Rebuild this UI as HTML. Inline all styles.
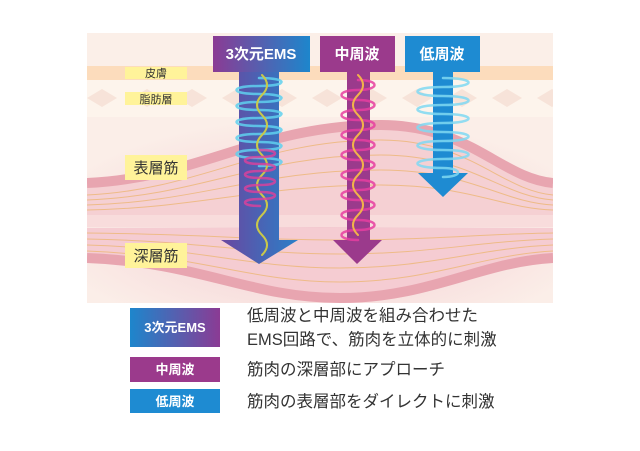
<!DOCTYPE html>
<html><head><meta charset="utf-8"><style>
html,body{margin:0;padding:0;background:#fff;}
body{width:640px;height:451px;overflow:hidden;position:relative;font-family:"Liberation Sans","Noto Sans CJK JP",sans-serif;}
</style></head><body>
<svg width="640" height="451" viewBox="0 0 640 451" xmlns="http://www.w3.org/2000/svg" style="position:absolute;left:0;top:0">
<defs>
<linearGradient id="ems" x1="0" y1="0" x2="1" y2="0"><stop offset="0" stop-color="#8b3b94"/><stop offset="1" stop-color="#1d86cc"/></linearGradient>
<linearGradient id="emsl" x1="0" y1="0" x2="1" y2="0"><stop offset="0" stop-color="#1d86cc"/><stop offset="1" stop-color="#8b3b94"/></linearGradient>
<linearGradient id="emsv" x1="0" y1="0" x2="1" y2="0"><stop offset="0" stop-color="#6a47a0"/><stop offset="1" stop-color="#2a7fc8"/></linearGradient>
<radialGradient id="glow" cx="0.5" cy="0.6" r="0.6"><stop offset="0" stop-color="#f3c9d0"/><stop offset="1" stop-color="#fbeee8"/></radialGradient>
<clipPath id="cl"><rect x="87" y="33" width="466" height="270"/></clipPath>
</defs>
<g clip-path="url(#cl)">
<rect x="87" y="33" width="466" height="270" fill="#fbefe8"/>
<rect x="87" y="117" width="466" height="186" fill="url(#glow)"/>
<rect x="87" y="66" width="466" height="14" fill="#fcdcbc"/>
<rect x="87" y="80" width="466" height="37" fill="#fdf4ec"/>
<g fill="#f7e3d9">
<path d="M87 98 l15 -9 15 9 -15 9z M132 98 l15 -9 15 9 -15 9z M177 98 l15 -9 15 9 -15 9z M222 98 l15 -9 15 9 -15 9z M267 98 l15 -9 15 9 -15 9z M312 98 l15 -9 15 9 -15 9z M357 98 l15 -9 15 9 -15 9z M402 98 l15 -9 15 9 -15 9z M447 98 l15 -9 15 9 -15 9z M492 98 l15 -9 15 9 -15 9z M537 98 l15 -9 15 9 -15 9z"/>
</g>
<path d="M87 185 C200 180 260 127 380 127 C470 127 500 180 553 185 L553 215 L87 215Z" fill="#f5d0d3"/>
<path d="M87 183 C200 178 260 125 380 125 C470 125 500 178 553 183" fill="none" stroke="#e8a5b0" stroke-width="10"/>
<g fill="none" stroke="#eebb88" stroke-width="1">
<path d="M87 195 C200 190 260 140 380 140 C470 140 500 190 553 195"/>
<path d="M87 200 C200 196 260 155 380 155 C470 155 500 196 553 200"/>
<path d="M87 205 C200 202 260 170 380 170 C470 170 500 202 553 205"/>
<path d="M87 210 C200 208 260 185 380 185 C470 185 500 208 553 210"/>
</g>
<rect x="87" y="215" width="466" height="12" fill="#f8dcdc"/>
<path d="M87 228 L553 228 L553 258 C480 262 430 298 340 298 C250 298 200 262 87 258Z" fill="#f5ccd2"/>
<path d="M87 258 C200 262 250 298 340 298 C430 298 480 262 553 258" fill="none" stroke="#e8a5b0" stroke-width="10"/>
<g fill="none" stroke="#eebb88" stroke-width="1">
<path d="M87 233 C200 234 250 240 340 240 C430 240 480 234 553 233"/>
<path d="M87 239 C200 241 250 254 340 254 C430 254 480 241 553 239"/>
<path d="M87 245 C200 248 250 268 340 268 C430 268 480 248 553 245"/>
<path d="M87 251 C200 255 250 282 340 282 C430 282 480 255 553 251"/>
</g>
</g>
<g font-size="11" fill="#333" text-anchor="middle">
<rect x="125" y="67" width="62" height="12" fill="#fff39a"/><text x="156" y="77">皮膚</text>
<rect x="125" y="92" width="62" height="13" fill="#fff39a"/><text x="156" y="103">脂肪層</text>
</g>
<g font-size="15" fill="#333" text-anchor="middle">
<rect x="125" y="155" width="62" height="25" fill="#fff39a"/><text x="156" y="173">表層筋</text>
<rect x="125" y="243" width="62" height="25" fill="#fff39a"/><text x="156" y="261">深層筋</text>
</g>
<path d="M239 72 L279 72 L279 240 L298 240 L259 264 L221 240 L239 240Z" fill="url(#emsv)"/>
<path d="M347 72 L370 72 L370 240 L382 240 L357 264 L333 240 L347 240Z" fill="#9b3a8c"/>
<path d="M433 72 L453 72 L453 173 L468 173 L443 197 L418 173 L433 173Z" fill="#1e8bd2"/>
<g fill="none" stroke-width="2.5" stroke-linecap="round">
<path d="M259 78 c30 0 30 8 0 8 c-30 0 -30 8 0 8 c30 0 30 8 0 8 c-30 0 -30 8 0 8 c30 0 30 8 0 8 c-30 0 -30 8 0 8 c30 0 30 8 0 8 c-30 0 -30 8 0 8 c30 0 30 8 0 8 c-30 0 -30 8 0 8 c30 0 30 8 0 8" stroke="#5fd0ee" opacity="0.85"/>
<path d="M262 75 q10 10 0 20 q-10 10 0 20 q10 10 0 20 q-10 10 0 20 q10 10 0 20 q-10 10 0 20 q10 10 0 20 q-10 10 0 20 q10 10 0 20" stroke="#c9c84a" stroke-width="2"/>
<path d="M260 150 c20 0 20 7 0 7 c-20 0 -20 7 0 7 c20 0 20 7 0 7 c-20 0 -20 7 0 7 c20 0 20 7 0 7 c-20 0 -20 7 0 7 c20 0 20 7 0 7 c-20 0 -20 7 0 7" stroke="#e0409b" opacity="0.8"/>
<path d="M358 80 c22 0 22 10 0 10 c-22 0 -22 10 0 10 c22 0 22 10 0 10 c-22 0 -22 10 0 10 c22 0 22 10 0 10 c-22 0 -22 10 0 10 c22 0 22 10 0 10 c-22 0 -22 10 0 10 c22 0 22 10 0 10 c-22 0 -22 10 0 10 c22 0 22 10 0 10 c-22 0 -22 10 0 10 c22 0 22 10 0 10 c-22 0 -22 10 0 10 c22 0 22 10 0 10 c-22 0 -22 10 0 10" stroke="#e63ea0" opacity="0.85"/>
<path d="M358 75 q10 10 0 20 q-10 10 0 20 q10 10 0 20 q-10 10 0 20 q10 10 0 20 q-10 10 0 20 q10 10 0 20 q-10 10 0 20" stroke="#f2b34a" stroke-width="2"/>
<path d="M443 78 c34 0 34 9 0 9 c-34 0 -34 9 0 9 c34 0 34 9 0 9 c-34 0 -34 9 0 9 c34 0 34 9 0 9 c-34 0 -34 9 0 9 c34 0 34 9 0 9 c-34 0 -34 9 0 9 c34 0 34 9 0 9 c-34 0 -34 9 0 9 c20 0 20 9 0 9" stroke="#7fd8f2" opacity="0.85"/>
</g>
<rect x="213" y="36" width="97" height="36" fill="url(#ems)"/>
<rect x="320" y="36" width="75" height="36" fill="#9b3a8c"/>
<rect x="405" y="36" width="75" height="36" fill="#1e8bd2"/>
<g font-size="15" fill="#fff" font-weight="bold" text-anchor="middle">
<text x="261" y="59">3次元EMS</text><text x="357" y="59">中周波</text><text x="442" y="59">低周波</text>
</g>
<rect x="130" y="308" width="90" height="39" fill="url(#emsl)"/>
<rect x="130" y="357" width="90" height="25" fill="#9b3a8c"/>
<rect x="130" y="389" width="90" height="24" fill="#1e8bd2"/>
<g font-size="13" fill="#fff" font-weight="bold" text-anchor="middle">
<text x="175" y="332">3次元EMS</text><text x="175" y="374">中周波</text><text x="175" y="406">低周波</text>
</g>
<g font-size="16.5" fill="#333">
<text x="247" y="321">低周波と中周波を組み合わせた</text>
<text x="247" y="345">EMS回路で、筋肉を立体的に刺激</text>
<text x="247" y="375">筋肉の深層部にアプローチ</text>
<text x="247" y="407">筋肉の表層部をダイレクトに刺激</text>
</g>
</svg>
</body></html>
